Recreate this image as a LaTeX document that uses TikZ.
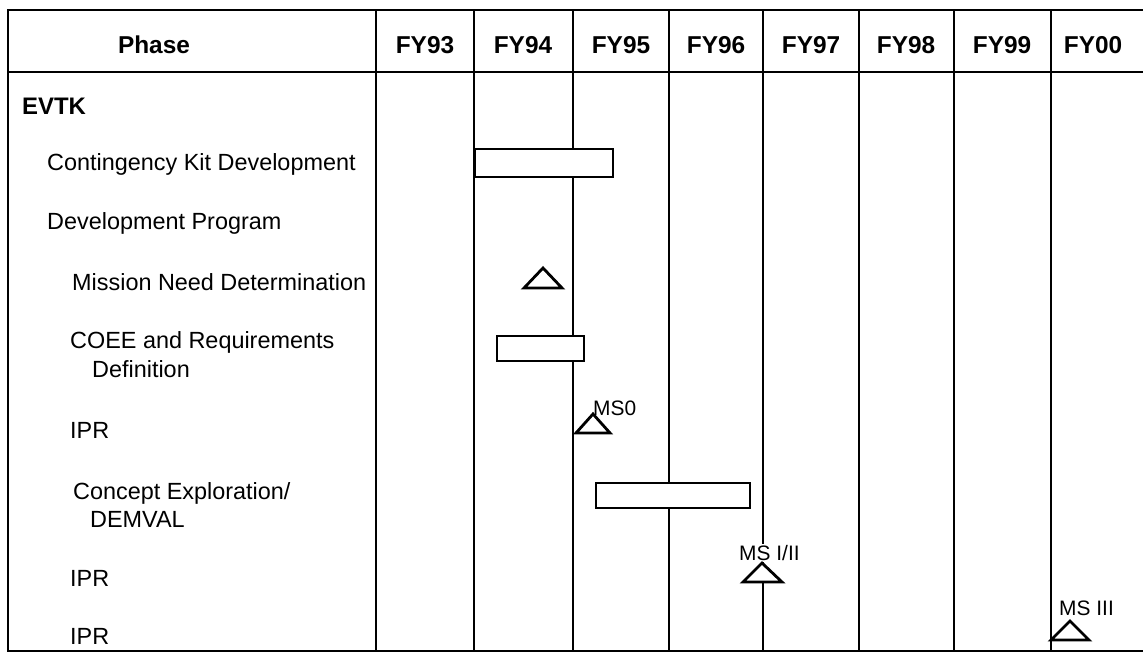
\documentclass[tikz,border=0pt]{standalone}
\usepackage{fontspec}
\setmainfont{Liberation Sans}
\begin{document}
\begin{tikzpicture}[x=1bp,y=-1bp,
  frame/.style={line width=2.6bp, line cap=rect},
  gridline/.style={line width=2.6bp},
  hdr/.style={font=\fontsize{24.5}{28}\selectfont\bfseries, inner sep=0pt},
  lbl/.style={font=\fontsize{23.5}{29}\selectfont, inner sep=0pt, anchor=west, align=left},
  bar/.style={draw, line width=2.6bp, fill=white},
  ms/.style={draw, line width=2.8bp, fill=white, line join=miter},
  mslbl/.style={font=\fontsize{21}{24}\selectfont, inner sep=1pt, anchor=west, fill=white}]
\useasboundingbox (0,0) rectangle (1143,653);
% frame
\draw[frame] (1143,10) -- (8,10) -- (8,651) -- (1143,651);
\draw[gridline] (8,72) -- (1143,72);
\foreach \x in {376,474,573,669,763,859,954,1051}
  \draw[gridline] (\x,10) -- (\x,651);
% header
\node[hdr] (hphase) at (154,45) {Phase};
\node[hdr] (h93) at (425,45) {FY93};
\node[hdr] (h94) at (523,45) {FY94};
\node[hdr] (h95) at (621,45) {FY95};
\node[hdr] (h96) at (716,45) {FY96};
\node[hdr] (h97) at (811,45) {FY97};
\node[hdr] (h98) at (906,45) {FY98};
\node[hdr] (h99) at (1002,45) {FY99};
\node[hdr] (h00) at (1093,45) {FY00};
% row labels
\node[lbl, font=\fontsize{24}{28}\selectfont\bfseries] (evtk) at (22,106) {EVTK};
\node[lbl] (ckd) at (47,164) {Contingency Kit Development};
\node[lbl] (dp) at (47,223) {Development Program};
\node[lbl] (mnd) at (72,282) {Mission Need Determination};
\node[lbl] (coee) at (70,355) {COEE and Requirements\\\hspace*{22bp}Definition};
\node[lbl] (ipr1) at (70,430) {IPR};
\node[lbl] (ce) at (73,505) {Concept Exploration/\\\hspace*{17bp}DEMVAL};
\node[lbl] (ipr2) at (70,578) {IPR};
\node[lbl] (ipr3) at (70,636) {IPR};
% bars
\draw[bar] (475,149) rectangle (613,177);
\draw[bar] (497,336) rectangle (584,361);
\draw[bar] (596,483) rectangle (750,508);
% milestones
\draw[ms] (524,288) -- (543,268) -- (562,288) -- cycle;
\draw[ms] (576,433) -- (593,414) -- (610,433) -- cycle;
\node[mslbl, fill=none] (ms0) at (592,408) {MS0};
\node[mslbl] (ms12) at (738,553) {MS I/II};
\draw[ms] (743,582) -- (762,563) -- (782,582) -- cycle;
\node[mslbl] (ms3) at (1058,608) {MS III};
\draw[ms] (1051,640) -- (1070,621) -- (1089,640) -- cycle;
\end{tikzpicture}
\end{document}
